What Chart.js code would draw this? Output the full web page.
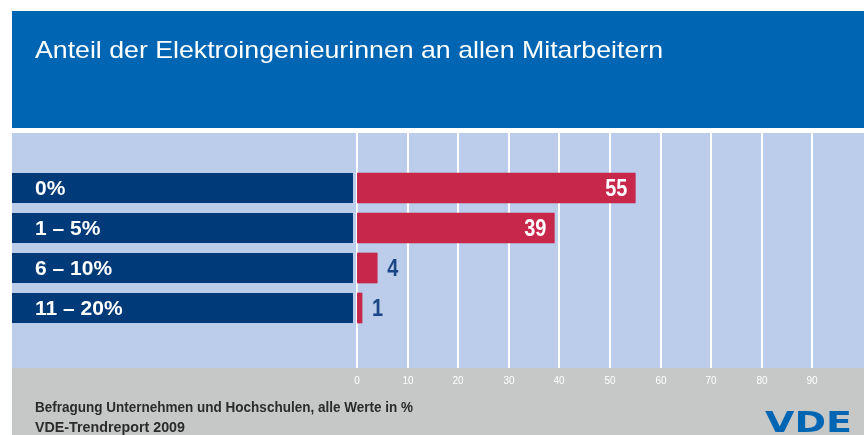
<!DOCTYPE html>
<html>
<head>
<meta charset="utf-8">
<script src="https://cdn.jsdelivr.net/npm/chart.js@4"></script>
<style>
  body { margin: 0; background: #fff; }
  canvas { display: block; }
</style>
</head>
<body>
<canvas id="shareChart" width="864" height="435"></canvas>
<script>
// Werte aus dem Trendreport
const categories = ['0%', '1 – 5%', '6 – 10%', '11 – 20%'];
const shares = [55, 39, 4, 1];
const tickValues = [0, 10, 20, 30, 40, 50, 60, 70, 80, 90];

const title = 'Anteil der Elektroingenieurinnen an allen Mitarbeitern';
const footer = ['Befragung Unternehmen und Hochschulen, alle Werte in %', 'VDE-Trendreport 2009'];

const sans = "'Liberation Sans', Arial, sans-serif";

// squeeze text horizontally to look like the condensed original
function narrowText(ctx, text, x, y, width) {
    const w = ctx.measureText(text).width;
    ctx.save();
    ctx.translate(x, y);
    ctx.scale(width / w, 1);
    ctx.fillText(text, 0, 0);
    ctx.restore();
}

// backgrounds, grid, ticks and category boxes
const backdrop = {
    id: 'backdrop',
    beforeDraw(chart) {
        const ctx = chart.ctx;
        const x = chart.scales.x;
        const y = chart.scales.y;
        ctx.save();
        ctx.fillStyle = '#0066b3';
        ctx.fillRect(12, 11, 852, 117);
        ctx.fillStyle = '#bbcdea';
        ctx.fillRect(12, 133, 852, 235);
        ctx.fillStyle = '#c6c7c7';
        ctx.fillRect(12, 368, 852, 67);

        ctx.fillStyle = '#fff';
        ctx.font = '24px ' + sans;
        ctx.textBaseline = 'middle';
        narrowText(ctx, title, 35, 51, 628);

        // vertical grid lines + tick labels
        ctx.strokeStyle = '#ffffff';
        ctx.lineWidth = 2;
        ctx.font = '10px ' + sans;
        ctx.textAlign = 'center';
        tickValues.forEach(v => {
            const px = Math.round(x.getPixelForValue(v));
            ctx.beginPath();
            ctx.moveTo(px, 133);
            ctx.lineTo(px, 368);
            ctx.stroke();
            ctx.fillText(String(v), px, 381);
        });
        ctx.textAlign = 'left';

        // category boxes
        ctx.font = 'bold 20px ' + sans;
        categories.forEach((c, i) => {
            const cy = y.getPixelForValue(i);
            ctx.fillStyle = '#003a79';
            ctx.fillRect(12, cy - 15, 341, 30);
            ctx.fillStyle = '#fff';
            narrowText(ctx, c, 35, cy + 1, ctx.measureText(c).width * 1.05);
        });

        // footer
        ctx.fillStyle = '#2b2b2b';
        ctx.font = 'bold 15px ' + sans;
        narrowText(ctx, footer[0], 35, 408, 378);
        narrowText(ctx, footer[1], 35, 428, 150);

        ctx.fillStyle = '#0066b3';
        ctx.font = "bold 28px 'DejaVu Sans', sans-serif";
        ctx.textBaseline = 'alphabetic';
        narrowText(ctx, 'VDE', 765, 432, 87);
        ctx.restore();
    },
    afterDatasetsDraw(chart) {
        const ctx = chart.ctx;
        const meta = chart.getDatasetMeta(0);
        ctx.save();
        ctx.font = 'bold 24px ' + sans;
        ctx.textBaseline = 'middle';
        meta.data.forEach((bar, i) => {
            const v = String(shares[i]);
            const w = ctx.measureText(v).width * 0.83;
            if (shares[i] >= 20) {
                ctx.fillStyle = '#fff';
                narrowText(ctx, v, bar.x - 8 - w, bar.y + 1, w);
            } else {
                ctx.fillStyle = '#1b4584';
                narrowText(ctx, v, bar.x + 10, bar.y + 1, w);
            }
        });
        ctx.restore();
    }
};

new Chart(document.getElementById('shareChart'), {
    type: 'bar',
    data: {
        labels: categories,
        datasets: [{
            data: shares,
            backgroundColor: '#c7274b',
            barThickness: 30,
            borderWidth: 0
        }]
    },
    options: {
        indexAxis: 'y',
        responsive: false,
        animation: false,
        layout: {
            padding: { left: 357, right: 1, top: 168, bottom: 107 }
        },
        plugins: {
            legend: { display: false },
            tooltip: { enabled: false }
        },
        scales: {
            x: {
                display: false,
                min: 0,
                max: 100
            },
            y: {
                display: false
            }
        }
    },
    plugins: [backdrop]
});
</script>
</body>
</html>
